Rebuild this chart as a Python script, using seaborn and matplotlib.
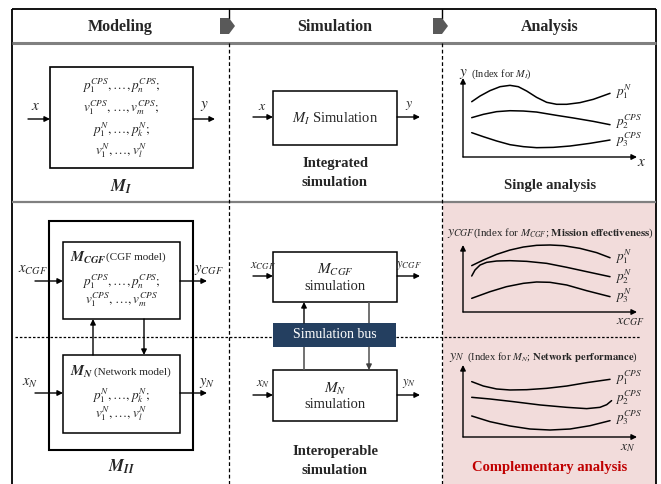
import matplotlib
matplotlib.use('Agg')
import matplotlib.pyplot as plt
import seaborn as sns
from matplotlib.patches import Rectangle, Polygon

sns.set_theme(style='white')
plt.rcParams['font.family'] = ['Liberation Serif', 'DejaVu Serif']
plt.rcParams['mathtext.fontset'] = 'stix'

# sketch curves for the analysis column (x, y in 0-100 units of each mini plot)
single_x = [[5, 9.8, 15.5, 21.3, 27, 31.8, 36.6, 42.3, 48.1, 53.8, 59.6, 67.2, 74.9, 84.5],
            [5, 11.7, 19.3, 27, 34.7, 42.3, 53.8, 63.4, 74.9, 84.5],
            [5, 11.7, 19.3, 27, 34.7, 42.3, 51.9, 61.5, 73, 84.5]]
single_y = [[70, 77.2, 84, 89, 90.7, 89, 83.5, 75.5, 69.2, 66.7, 66.7, 68.8, 73, 80.6],
            [49.8, 54, 57.4, 58.6, 58.2, 56.9, 52.7, 49.4, 45.1, 40.9],
            [30.8, 25.7, 20.3, 15.6, 13.1, 11.8, 12.2, 13.9, 17.3, 21.5]]
single_labels = [r'$p_1^N$', r'$p_2^{CPS}$', r'$p_3^{CPS}$']

cgf_x = [[5, 11.7, 19.3, 27, 34.7, 42.3, 50, 57.7, 67.2, 76.8, 84.5],
         [5, 6.9, 9.8, 13.6, 19.3, 27, 36.6, 48.1, 59.6, 71.1, 84.5],
         [5, 15.5, 25, 34.7, 42.3, 50, 59.6, 71.1, 84.5]]
cgf_y = [[69.2, 77.6, 86, 92.5, 97, 99.5, 100, 99, 95, 88.6, 81],
         [53.7, 62.7, 70.1, 74.1, 76.1, 76.6, 75.6, 72.6, 66.7, 60.2, 52.7],
         [20.4, 30.3, 37.8, 42.8, 44.8, 44.3, 40.3, 31.8, 22.9]]
cgf_labels = [r'$p_1^N$', r'$p_2^N$', r'$p_3^N$']

net_x = [[5, 11.7, 19.3, 27, 36.6, 48.1, 59.6, 71.1, 84.5],
         [5, 15.5, 28.9, 44.3, 59.6, 71.1, 78.7, 82.6, 85.4],
         [5, 15.5, 27, 38.5, 50, 61.5, 73, 84.5]]
net_y = [[76.9, 70.8, 66.7, 65.3, 65.7, 67.6, 70.8, 75.5, 80.1],
         [55.1, 52.8, 49.1, 44.5, 41.2, 39.4, 41.2, 44.9, 50.5],
         [29.2, 21.3, 15.3, 11.1, 9.7, 11.1, 15.7, 22.7]]
net_labels = [r'$p_1^{CPS}$', r'$p_2^{CPS}$', r'$p_3^{CPS}$']

W, H = 661, 484
fig = plt.figure(figsize=(W / 100, H / 100), dpi=100)
ax = fig.add_axes([0, 0, 1, 1])
ax.set_xlim(0, W)
ax.set_ylim(H, 0)
ax.axis('off')


def line(x0, y0, x1, y1, **kw):
    kw.setdefault('color', 'black')
    kw.setdefault('lw', 1.0)
    ax.plot([x0, x1], [y0, y1], solid_capstyle='butt', **kw)


def box(x0, y0, x1, y1, lw=1.1, fc='white', ec='black', z=2):
    ax.add_patch(Rectangle((x0, y0), x1 - x0, y1 - y0, fc=fc, ec=ec, lw=lw, zorder=z))


def arrow(x0, y0, x1, y1, color='black', a=ax):
    a.annotate('', xy=(x1, y1), xytext=(x0, y0),
               arrowprops=dict(arrowstyle='-|>', lw=1.0, color=color,
                               mutation_scale=8, shrinkA=0, shrinkB=0),
               annotation_clip=False)


def txt(x, y, s, size=10, **kw):
    kw.setdefault('ha', 'center')
    kw.setdefault('va', 'center')
    ax.text(x, y, s, fontsize=size, **kw)


# background / frame
ax.add_patch(Rectangle((443, 203), 213, 281, fc='#f2dcdb', ec='none', zorder=0))
line(12, 9, 656, 9, lw=1.3)
line(12, 9, 12, H, lw=1.3)
line(656, 9, 656, H, lw=1.3)
line(12, 43, 656, 43, color='#808080', lw=2.2)
line(12, 202, 656, 202, color='#808080', lw=1.6)
for xv in (229, 442):
    line(xv, 9, xv, 19)
    line(xv, 43, xv, H, lw=0.9, ls=(0, (3, 2)))
    ax.add_patch(Polygon([(xv - 9, 18), (xv, 18), (xv + 6, 26), (xv, 34), (xv - 9, 34)],
                         fc='#595959', ec='none', zorder=3))
line(15, 337, 273, 337, lw=0.9, ls=(0, (2, 1.5)))
line(396, 337, 640, 337, lw=0.9, ls=(0, (2, 1.5)))

# header
for xc, s in zip([120, 335, 550], ['Modeling', 'Simulation', 'Analysis']):
    txt(xc, 27, s, size=11.5, fontweight='bold')

# --- row 1, modeling
box(50, 67, 193, 168, lw=1.2)
for yy, s in zip([86, 108, 130, 151],
                 [r'$p_1^{CPS},\ldots,p_n^{CPS};$', r'$v_1^{CPS},\ldots,v_m^{CPS};$',
                  r'$p_1^{N},\ldots,p_k^{N};$', r'$v_1^{N},\ldots,v_l^{N}$']):
    txt(121, yy, s, size=9.5)
txt(121, 187, r'$\mathbfit{M}_{\mathbfit{I}}$', size=12)
arrow(28, 119, 50, 119)
arrow(193, 119, 215, 119)
txt(36, 107, r'$x$', size=11)
txt(204, 106, r'$y$', size=11)

# --- row 1, simulation
box(273, 91, 397, 145)
txt(335, 119, r'$M_I$ Simulation', size=10.5)
arrow(253, 117, 273, 117)
arrow(397, 117, 420, 117)
txt(262, 106, r'$x$', size=10)
txt(409, 106, r'$y$', size=10)
txt(335, 164, 'Integrated', size=10.5, fontweight='bold')
txt(335, 183, 'simulation', size=10.5, fontweight='bold')

# --- row 2, modeling
box(49, 221, 193, 450, lw=1.5, z=1)
box(63, 242, 180, 319)
box(63, 355, 180, 433)
txt(70, 258, r'$\mathbfit{M}_{\mathbfit{CGF}}$', size=10.5, ha='left')
txt(106, 257, '(CGF model)', size=8, ha='left')
txt(121, 282, r'$p_1^{CPS},\ldots,p_n^{CPS};$', size=9.5)
txt(121, 300, r'$v_1^{CPS},\ldots,v_m^{CPS}$', size=9.5)
txt(70, 372, r'$\mathbfit{M}_{\mathbfit{N}}$', size=10.5, ha='left')
txt(94, 372, '(Network model)', size=8, ha='left')
txt(121, 396, r'$p_1^{N},\ldots,p_k^{N};$', size=9.5)
txt(121, 414, r'$v_1^{N},\ldots,v_l^{N}$', size=9.5)
arrow(93, 355, 93, 319)
arrow(144, 319, 144, 355)
arrow(35, 281, 63, 281)
arrow(180, 281, 207, 281)
arrow(35, 393, 63, 393)
arrow(180, 393, 207, 393)
txt(33, 270, r'$x_{CGF}$', size=10.5)
txt(209, 270, r'$y_{CGF}$', size=10.5)
txt(30, 383, r'$x_N$', size=10.5)
txt(207, 383, r'$y_N$', size=10.5)
txt(121, 467, r'$\mathbfit{M}_{\mathbfit{II}}$', size=12)

# --- row 2, simulation
box(273, 252, 397, 302)
box(273, 370, 397, 421)
ax.add_patch(Rectangle((273, 323), 123, 24, fc='#243f60', ec='none', zorder=2))
txt(335, 335, 'Simulation bus', size=10, color='white')
txt(335, 270, r'$M_{CGF}$', size=11)
txt(335, 286, 'simulation', size=10.5)
txt(335, 389, r'$M_{N}$', size=11)
txt(335, 405, 'simulation', size=10.5)
arrow(304, 323, 304, 302)
line(369, 302, 369, 323, color='#595959', lw=1.2)
line(304, 347, 304, 370, color='#595959', lw=1.2)
arrow(369, 347, 369, 370, color='#404040')
arrow(253, 276, 273, 276)
arrow(397, 276, 420, 276)
arrow(253, 395, 273, 395)
arrow(397, 395, 420, 395)
txt(263, 266, r'$x_{CGF}$', size=9)
txt(409, 266, r'$y_{CGF}$', size=9)
txt(263, 384, r'$x_{N}$', size=9)
txt(409, 384, r'$y_{N}$', size=9)
txt(335, 451, 'Interoperable', size=10.5, fontweight='bold')
txt(335, 470, 'simulation', size=10.5, fontweight='bold')

# --- analysis column: three sketch plots
panels = [(157, 78, single_x, single_y, single_labels, [92, 122, 140]),
          (312, 245, cgf_x, cgf_y, cgf_labels, [257, 277, 296]),
          (437, 365, net_x, net_y, net_labels, [378, 398, 418])]
for y0, y1, xs, ys, labs, ly in panels:
    sub = fig.add_axes([463 / W, (H - y0) / H, 174 / W, (y0 - y1) / H])
    sub.set_xlim(0, 100)
    sub.set_ylim(0, 100)
    sub.axis('off')
    for cx, cy in zip(xs, ys):
        sns.lineplot(x=cx, y=cy, ax=sub, color='black', lw=1.1, sort=False,
                     clip_on=False)
    arrow(0, 0, 0, 100, a=sub)
    arrow(0, 0, 100, 0, a=sub)
    for s, yy in zip(labs, ly):
        txt(615, yy, s, size=9.5, ha='left')

txt(463, 74, r'$y$', size=11)
txt(471, 74, r'(Index for $M_I$)', size=7.5, ha='left')
txt(642, 163, r'$x$', size=11)
txt(447, 233, r'$y_{CGF}$', size=10, ha='left')
txt(473, 233, r'(Index for $M_{CGF}$; $\mathbf{Mission\ effectiveness}$)', size=7.9, ha='left')
txt(630, 321, r'$x_{CGF}$', size=10)
txt(449, 357, r'$y_N$', size=10, ha='left')
txt(467, 357, r'(Index for $M_N$; $\mathbf{Network\ performance}$)', size=7.7, ha='left')
txt(628, 448, r'$x_N$', size=10)
txt(550, 185, 'Single analysis', size=10.5, fontweight='bold')
txt(550, 468, 'Complementary analysis', size=10.5, fontweight='bold', color='#c00000')

fig.savefig('out.png', dpi=100)
